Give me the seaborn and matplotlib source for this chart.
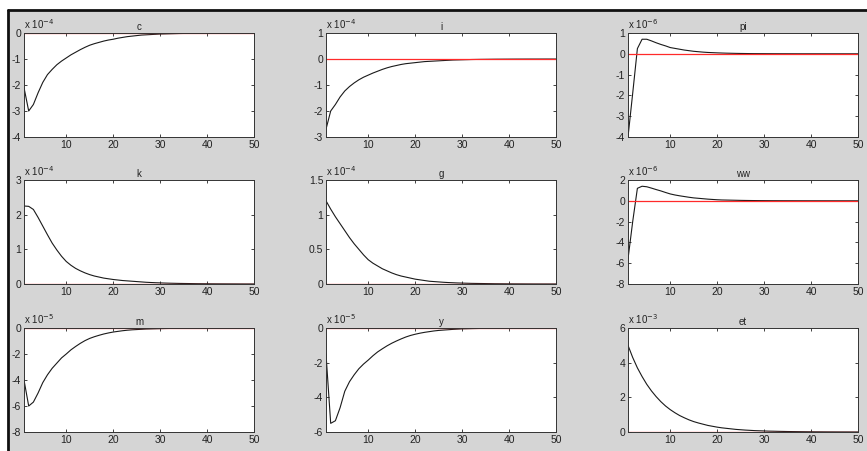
import seaborn as sns
import matplotlib.pyplot as plt
import matplotlib.patches as mpatches
import matplotlib.lines as mlines
import pandas as pd

# impulse responses, values already scaled by the factor shown above each panel
periods = list(range(1, 51))

c_irf = [-2.1, -3.0, -2.75, -2.3, -1.9, -1.6, -1.4, -1.22, -1.08, -0.96,
         -0.84, -0.74, -0.64, -0.55, -0.47, -0.41, -0.36, -0.31, -0.27, -0.24,
         -0.2, -0.17, -0.14, -0.12, -0.1, -0.08, -0.07, -0.06, -0.05, -0.04,
         -0.035, -0.03, -0.025, -0.02, -0.017, -0.014, -0.012, -0.01, -0.008, -0.007,
         -0.006, -0.005, -0.004, -0.0035, -0.003, -0.0025, -0.002, -0.002, -0.0015, -0.001]
i_irf = [-2.7, -2.0, -1.75, -1.46, -1.23, -1.06, -0.92, -0.8, -0.7, -0.62,
         -0.54, -0.47, -0.4, -0.34, -0.29, -0.25, -0.21, -0.18, -0.16, -0.14,
         -0.12, -0.1, -0.09, -0.08, -0.07, -0.06, -0.05, -0.04, -0.035, -0.03,
         -0.025, -0.02, -0.017, -0.014, -0.012, -0.01, -0.008, -0.007, -0.006, -0.005,
         -0.004, -0.0035, -0.003, -0.0025, -0.002, -0.002, -0.0015, -0.001, -0.001, -0.001]
pi_irf = [-4.0, -1.9, 0.25, 0.7, 0.7, 0.62, 0.53, 0.45, 0.38, 0.3,
          0.26, 0.22, 0.18, 0.15, 0.12, 0.1, 0.08, 0.065, 0.055, 0.045,
          0.037, 0.03, 0.025, 0.02, 0.016, 0.013, 0.01, 0.008, 0.007, 0.006,
          0.005, 0.004, 0.0035, 0.003, 0.0025, 0.002, 0.0015, 0.001, 0.001, 0.001,
          0.0008, 0.0006, 0.0005, 0.0004, 0.0003, 0.0003, 0.0002, 0.0002, 0.0001, 0.0001]
k_irf = [2.25, 2.24, 2.15, 1.92, 1.67, 1.42, 1.18, 0.98, 0.8, 0.65,
         0.54, 0.45, 0.38, 0.32, 0.27, 0.23, 0.2, 0.17, 0.15, 0.13,
         0.115, 0.1, 0.09, 0.08, 0.07, 0.06, 0.05, 0.043, 0.037, 0.032,
         0.027, 0.023, 0.02, 0.017, 0.015, 0.013, 0.011, 0.009, 0.008, 0.007,
         0.006, 0.005, 0.0045, 0.004, 0.0035, 0.003, 0.0025, 0.002, 0.002, 0.0015]
g_irf = [1.2, 1.08, 0.97, 0.87, 0.77, 0.67, 0.58, 0.5, 0.42, 0.35,
         0.3, 0.26, 0.22, 0.19, 0.16, 0.135, 0.115, 0.1, 0.085, 0.07,
         0.06, 0.05, 0.04, 0.035, 0.03, 0.025, 0.021, 0.018, 0.015, 0.013,
         0.011, 0.009, 0.008, 0.007, 0.006, 0.005, 0.004, 0.0035, 0.003, 0.0025,
         0.002, 0.0018, 0.0015, 0.0012, 0.001, 0.0009, 0.0008, 0.0007, 0.0006, 0.0005]
ww_irf = [-5.6, -2.0, 1.2, 1.4, 1.35, 1.22, 1.08, 0.95, 0.8, 0.66,
          0.56, 0.48, 0.41, 0.34, 0.28, 0.24, 0.2, 0.16, 0.13, 0.1,
          0.08, 0.07, 0.06, 0.05, 0.04, 0.033, 0.027, 0.022, 0.018, 0.015,
          0.012, 0.01, 0.008, 0.007, 0.006, 0.005, 0.004, 0.0035, 0.003, 0.0025,
          0.002, 0.0017, 0.0014, 0.0012, 0.001, 0.0008, 0.0007, 0.0006, 0.0005, 0.0004]
m_irf = [-4.0, -6.0, -5.7, -5.0, -4.2, -3.6, -3.1, -2.7, -2.3, -2.0,
         -1.68, -1.42, -1.18, -0.97, -0.8, -0.67, -0.56, -0.46, -0.38, -0.31,
         -0.26, -0.21, -0.17, -0.14, -0.12, -0.1, -0.08, -0.07, -0.06, -0.05,
         -0.04, -0.033, -0.027, -0.022, -0.018, -0.015, -0.012, -0.01, -0.008, -0.007,
         -0.006, -0.005, -0.004, -0.0035, -0.003, -0.0025, -0.002, -0.0017, -0.0014, -0.0012]
y_irf = [-1.5, -5.5, -5.35, -4.6, -3.65, -3.1, -2.7, -2.35, -2.08, -1.85,
         -1.6, -1.38, -1.2, -1.03, -0.88, -0.75, -0.63, -0.52, -0.43, -0.36,
         -0.3, -0.25, -0.21, -0.17, -0.14, -0.12, -0.1, -0.08, -0.065, -0.05,
         -0.042, -0.035, -0.029, -0.024, -0.02, -0.016, -0.013, -0.011, -0.009, -0.007,
         -0.006, -0.005, -0.004, -0.0035, -0.003, -0.0025, -0.002, -0.0017, -0.0014, -0.0012]
et_irf = [5.0, 4.3, 3.7, 3.2, 2.75, 2.37, 2.04, 1.75, 1.5, 1.29,
          1.11, 0.95, 0.82, 0.7, 0.6, 0.52, 0.45, 0.38, 0.33, 0.28,
          0.24, 0.21, 0.18, 0.15, 0.13, 0.11, 0.095, 0.08, 0.07, 0.06,
          0.05, 0.045, 0.038, 0.033, 0.028, 0.024, 0.021, 0.018, 0.015, 0.013,
          0.011, 0.01, 0.008, 0.007, 0.006, 0.005, 0.0045, 0.004, 0.0035, 0.003]

names = ["c", "i", "pi", "k", "g", "ww", "m", "y", "et"]
series = [c_irf, i_irf, pi_irf, k_irf, g_irf, ww_irf, m_irf, y_irf, et_irf]
exponents = [-4, -4, -6, -4, -4, -6, -5, -5, -3]
ylims = [(-4, 0), (-3, 1), (-4, 1), (0, 3), (0, 1.5), (-8, 2), (-8, 0), (-6, 0), (0, 6)]
ystep = [1, 1, 1, 1, 0.5, 2, 2, 2, 2]
xticks = [10, 20, 30, 40, 50]

sns.set_style("ticks")
plt.rcParams['font.family'] = ['Liberation Sans', 'DejaVu Sans']

fig = plt.figure(figsize=(8.67, 4.51), dpi=100)
fig.patch.set_facecolor("white")
# grey figure background, dark frame only on top and left
x0 = 8 / 867
y1 = 1 - 10 / 451
fig.patches.append(mpatches.Rectangle((x0, -0.05), 1.2, y1 + 0.05,
                                      transform=fig.transFigure, facecolor="#d5d5d5",
                                      edgecolor="none", zorder=-10))
fig.add_artist(mlines.Line2D([x0, 1.0], [y1, y1], color="#111111", linewidth=2,
                             transform=fig.transFigure))
fig.add_artist(mlines.Line2D([x0, x0], [0.0, y1], color="#111111", linewidth=2,
                             transform=fig.transFigure))

col_left = [24 / 867, 326 / 867, 628 / 867]
row_bottom = [1 - 137 / 451, 1 - 284 / 451, 1 - 432 / 451]
w = 230 / 867
h = 104 / 451

for n, (name, vals) in enumerate(zip(names, series)):
    r, cidx = divmod(n, 3)
    ax = fig.add_axes([col_left[cidx], row_bottom[r], w, h])
    ax.set_facecolor("white")
    df = pd.DataFrame({"t": periods, "v": vals})
    sns.lineplot(data=df, x="t", y="v", ax=ax, color="#1a1a1a", linewidth=0.8)
    ax.axhline(0, color="#ff2a2a", linewidth=0.9)
    ax.set_xlim(1, 50)
    lo, hi = ylims[n]
    ax.set_ylim(lo, hi)
    step = ystep[n]
    ticks = []
    v = lo
    while v <= hi + 1e-9:
        ticks.append(v)
        v += step
    ax.set_yticks(ticks)
    ax.set_yticklabels(["%g" % t for t in ticks])
    ax.set_xticks(xticks)
    ax.set_xlabel("")
    ax.set_ylabel("")
    ax.tick_params(direction="in", length=2.5, width=0.6, labelsize=7.5, pad=2,
                   top=True, right=True, colors="#222222")
    for s in ax.spines.values():
        s.set_visible(True)
        s.set_linewidth(0.7)
        s.set_color("#333333")
    ax.set_title(name, fontsize=7, pad=2, color="#222222")
    ax.text(0.0, 1.02, r"x 10$^{%d}$" % exponents[n], transform=ax.transAxes,
            fontsize=7, ha="left", va="bottom", color="#222222")

plt.savefig("out.png", dpi=100, facecolor=fig.get_facecolor())
